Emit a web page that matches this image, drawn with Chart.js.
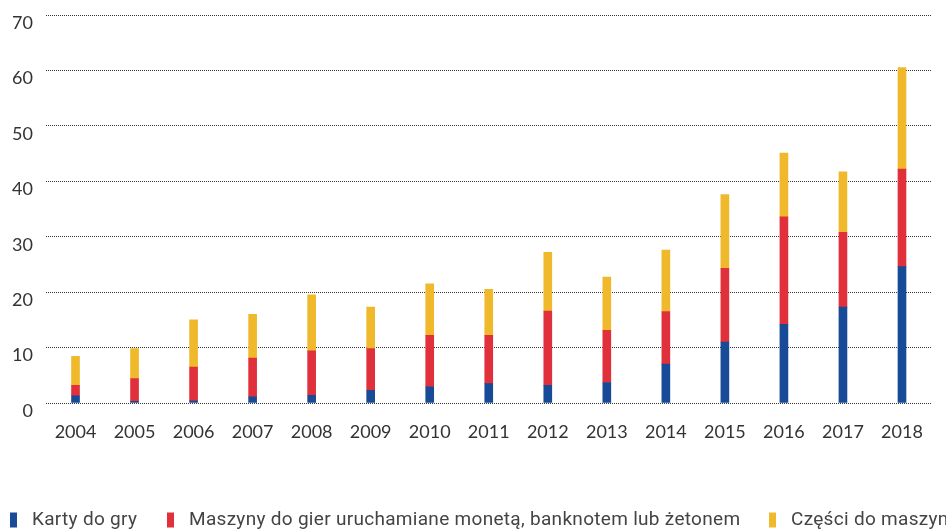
<!DOCTYPE html>
<html lang="pl">
<head>
    <meta charset="UTF-8">
    <title>Karty do gry i maszyny do gier</title>
    <script src="https://cdn.jsdelivr.net/npm/chart.js"></script>
    <style>
        html, body { margin: 0; padding: 0; background: #fff; }
        canvas { display: block; }
    </style>
</head>
<body>
    <canvas id="wykres" width="946" height="529"></canvas>

    <script>
        // dane
        const lata = ['2004', '2005', '2006', '2007', '2008', '2009', '2010', '2011', '2012', '2013', '2014', '2015', '2016', '2017', '2018'];
        const kartyDoGry = [1.3, 0.3, 0.4, 1.1, 1.4, 2.3, 2.9, 3.5, 3.2, 3.7, 7.0, 11.0, 14.2, 17.3, 24.6];
        const maszyny = [1.9, 4.1, 6.1, 7.0, 8.0, 7.5, 9.3, 8.7, 13.4, 9.4, 9.5, 13.3, 19.4, 13.5, 17.6];
        const czesci = [5.2, 5.4, 8.5, 7.9, 10.1, 7.5, 9.3, 8.3, 10.6, 9.6, 11.1, 13.3, 11.5, 10.9, 18.3];
        const etykiety = ['Karty do gry', 'Maszyny do gier uruchamiane monetą, banknotem lub żetonem', 'Części do maszyn'];
        const kolory = ['#174a97', '#e0303b', '#f0b92c'];

        const fontOsi = '"Lato", "Open Sans", sans-serif';

        // legenda rysowana recznie na dole, pozycje kwadratow jak w oryginale
        const pozycjeLegendy = [10, 167, 769];
        const legendaDol = {
            id: 'legendaDol',
            afterDraw(chart) {
                const ctx = chart.ctx;
                ctx.save();
                ctx.font = '19px Roboto, "Liberation Sans", sans-serif';
                ctx.letterSpacing = '0.3px';
                ctx.textBaseline = 'middle';
                const y = 520;
                chart.data.datasets.forEach((ds, i) => {
                    const x = pozycjeLegendy[i];
                    ctx.fillStyle = ds.backgroundColor;
                    ctx.fillRect(x, y - 7.5, 7, 15);
                    ctx.fillStyle = '#444';
                    ctx.fillText(ds.label, x + 22, y);
                });
                ctx.restore();
            }
        };

        const ctx = document.getElementById('wykres').getContext('2d');
        new Chart(ctx, {
            type: 'bar',
            data: {
                labels: lata,
                datasets: [
                    { label: etykiety[0], data: kartyDoGry, backgroundColor: kolory[0] },
                    { label: etykiety[1], data: maszyny, backgroundColor: kolory[1] },
                    { label: etykiety[2], data: czesci, backgroundColor: kolory[2] }
                ]
            },
            options: {
                responsive: false,
                animation: false,
                barThickness: 8,
                layout: { padding: { top: 15, right: 14.5, left: 0, bottom: 71 } },
                plugins: {
                    legend: { display: false },
                    tooltip: { enabled: false }
                },
                scales: {
                    x: {
                        stacked: true,
                        grid: { display: false },
                        border: { display: false },
                        ticks: {
                            color: '#333',
                            padding: 10,
                            font: { family: fontOsi, size: 18 },
                            maxRotation: 0
                        },
                        afterFit(scale) {
                            scale.height = 55;
                            scale.paddingLeft = 0;
                            scale.paddingRight = 0;
                        }
                    },
                    y: {
                        stacked: true,
                        min: 0,
                        max: 70,
                        grid: { color: '#333', lineWidth: 1, drawTicks: false },
                        border: { display: false, dash: [1, 1] },
                        ticks: {
                            stepSize: 10,
                            color: '#333',
                            padding: 13,
                            labelOffset: 8,
                            font: { family: fontOsi, size: 18 }
                        },
                        afterFit(scale) {
                            scale.width = 46;
                            scale.paddingTop = 0;
                            scale.paddingBottom = 0;
                        }
                    }
                }
            },
            plugins: [legendaDol]
        });
    </script>
</body>
</html>
